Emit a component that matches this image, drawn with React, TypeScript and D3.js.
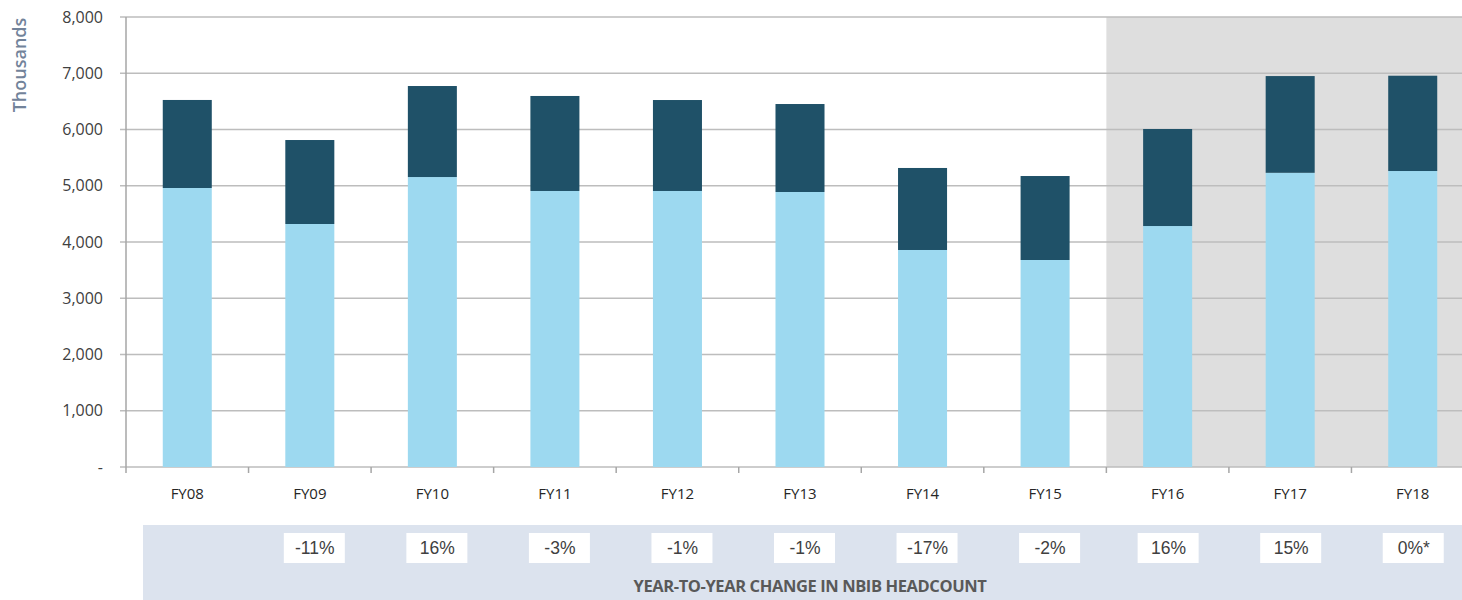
import React from "react";
import { scaleBand, scaleLinear, stack } from "d3";

const years = ["FY08", "FY09", "FY10", "FY11", "FY12", "FY13", "FY14", "FY15", "FY16", "FY17", "FY18"];
const baseValues = [4960, 4320, 5155, 4907, 4907, 4889, 3858, 3680, 4284, 5230, 5262];
const topValues = [1565, 1493, 1618, 1689, 1617, 1564, 1458, 1493, 1725, 1720, 1694];
const changeLabels = ["", "-11%", "16%", "-3%", "-1%", "-1%", "-17%", "-2%", "16%", "15%", "0%*"];
const yTicks = [0, 1000, 2000, 3000, 4000, 5000, 6000, 7000, 8000];
const shadedFrom = "FY16";

const width = 1462;
const height = 600;
const margin = { top: 17, left: 126, bottom: 133 };
const plotRight = 1474;

function App() {
  const innerBottom = height - margin.bottom; // 467
  const x = scaleBand().domain(years).range([margin.left, plotRight]).paddingInner(0.6).paddingOuter(0.3);
  const step = x.step();
  const y = scaleLinear().domain([0, 8000]).range([innerBottom, margin.top]);

  const rows = years.map((yr, i) => ({ year: yr, base: baseValues[i], top: topValues[i] }));
  const series = stack<any>().keys(["base", "top"])(rows);
  const colors = ["#9dd9f0", "#1f5168"];

  const bandStart = (yr: string) => (x(yr) as number) - (step - x.bandwidth()) / 2;
  const shadeX = bandStart(shadedFrom);
  const center = (yr: string) => (x(yr) as number) + x.bandwidth() / 2;

  const fmt = (v: number) => (v === 0 ? "-" : v.toLocaleString("en-US"));

  return (
    <svg width={width} height={height} style={{ display: "block", position: "absolute", left: 0, top: 0 }}>
      <rect x={shadeX} y={margin.top} width={plotRight - shadeX} height={innerBottom - margin.top} fill="#dedede" />
      {yTicks.map((t) => (
        <g key={t}>
          <line x1={margin.left - 6} x2={plotRight} y1={y(t)} y2={y(t)} stroke="#bdbdbd" strokeWidth={1.5} />
          <text x={103} y={y(t)} dy="0.35em" textAnchor="end" fontFamily="Open Sans, sans-serif" fontSize={16} fill="#404040">
            {fmt(t)}
          </text>
        </g>
      ))}
      <line x1={margin.left} x2={margin.left} y1={margin.top} y2={innerBottom + 6} stroke="#a6a6a6" strokeWidth={1.5} />
      {years.map((yr) => (
        <line key={yr} x1={bandStart(yr) + step} x2={bandStart(yr) + step} y1={innerBottom} y2={innerBottom + 6} stroke="#a6a6a6" strokeWidth={1.5} />
      ))}
      <text
        transform={`translate(26,65) rotate(-90)`}
        textAnchor="middle"
        fontFamily="Open Sans, sans-serif"
        fontSize={18}
        fontWeight={600}
        fill="#72839a"
      >
        Thousands
      </text>
      {series.map((s, si) => (
        <g key={si}>
          {s.map((d: any) => (
            <rect
              key={d.data.year}
              x={x(d.data.year)}
              y={y(d[1])}
              width={x.bandwidth()}
              height={y(d[0]) - y(d[1])}
              fill={colors[si]}
            />
          ))}
        </g>
      ))}
      {years.map((yr) => (
        <text key={yr} x={center(yr)} y={499} textAnchor="middle" fontFamily="Open Sans, sans-serif" fontSize={15} fill="#262626">
          {yr}
        </text>
      ))}
      <rect x={143} y={525} width={width - 143} height={75} fill="#dce3ee" />
      {years.map((yr, i) =>
        changeLabels[i] ? (
          <g key={yr}>
            <rect x={center(yr) - 30 + (i < 8 ? 4 : 0)} y={533} width={61} height={30} fill="#ffffff" />
            <text
              x={center(yr) + 1 + (i < 8 ? 4 : 0)}
              y={548}
              dy="0.35em"
              textAnchor="middle"
              fontFamily="Liberation Sans, Arial, sans-serif"
              fontSize={17.5}
              fill="#404040"
            >
              {changeLabels[i]}
            </text>
          </g>
        ) : null
      )}
      <text
        x={810}
        y={592}
        textAnchor="middle"
        fontFamily="Open Sans, sans-serif"
        fontSize={16.5}
        fontWeight={700}
        fill="#595959"
        letterSpacing={-0.4}
      >
        YEAR-TO-YEAR CHANGE IN NBIB HEADCOUNT
      </text>
    </svg>
  );
}

export default App;
